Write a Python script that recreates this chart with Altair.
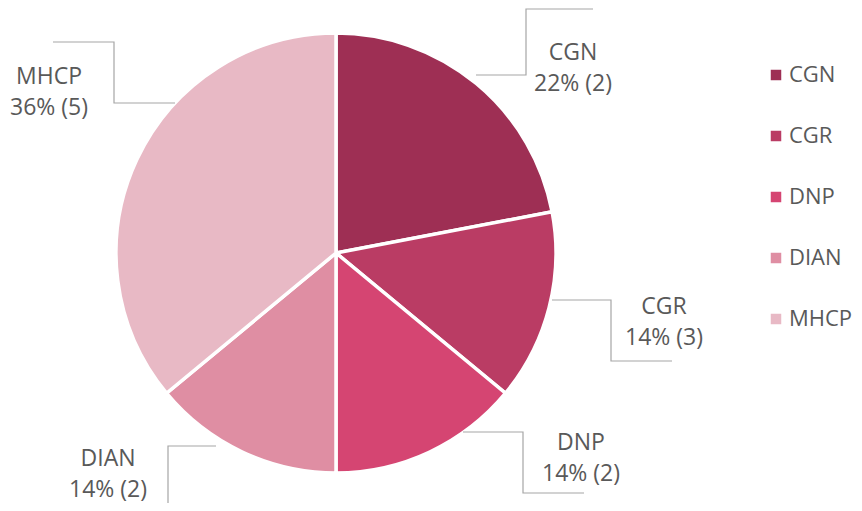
import altair as alt
import pandas as pd

# ---- data ----
categories = ["CGN", "CGR", "DNP", "DIAN", "MHCP"]
shares = [22, 14, 14, 14, 36]
counts = [2, 3, 2, 2, 5]
colors = ["#9E2F54", "#BA3C64", "#D54572", "#DF8EA3", "#E8B9C5"]

# label first-line centres (pixel space of the plot area)
label_x = [565, 656, 573, 100, 41]
label_y = [45, 299, 435, 451, 69]

# elbow leader lines (pixel space of the plot area)
leader_x = [[468, 518, 518, 585], [544, 603, 603, 664], [455, 515, 515, 576],
            [208, 160, 160], [167, 106, 106, 45]]
leader_y = [[67, 67, 1, 1], [292, 292, 353, 353], [424, 424, 485, 485],
            [438, 438, 503], [95, 95, 34, 34]]

W, H = 846, 495
CX, CY, R = 328, 245, 220

pie_df = pd.DataFrame({"cat": categories, "share": shares,
                       "idx": list(range(len(categories)))})
lab_df = pd.DataFrame({
    "cat": categories,
    "txt": [f"{c}\n{s}% ({n})" for c, s, n in zip(categories, shares, counts)],
    "lx": label_x, "ly": label_y,
})
rows = []
for c, xs, ys in zip(categories, leader_x, leader_y):
    for i, (a, b) in enumerate(zip(xs, ys)):
        rows.append({"cat": c, "k": i, "px": a, "py": b})
line_df = pd.DataFrame(rows)

xs = alt.Scale(domain=[0, W], nice=False, zero=False)
ys = alt.Scale(domain=[H, 0], nice=False, zero=False)

FONT = "Open Sans"
FS = 23

pie = alt.Chart(pie_df).mark_arc(
    outerRadius=R, stroke="white", strokeWidth=3.5
).encode(
    theta=alt.Theta("share:Q", stack=True),
    order=alt.Order("idx:Q"),
    color=alt.Color(
        "cat:N",
        scale=alt.Scale(domain=categories, range=colors),
        sort=categories,
        legend=alt.Legend(
            title=None, orient="none", legendX=757, legendY=56,
            symbolType="square", symbolSize=110, symbolStrokeWidth=0,
            labelFontSize=22, labelFont=FONT, labelColor="#595959",
            rowPadding=39, labelOffset=2, padding=0,
        ),
    ),
    x=alt.value(CX), y=alt.value(CY),
)

leaders = alt.Chart(line_df).mark_line(color="#A6A6A6", strokeWidth=1.2, clip=True).encode(
    x=alt.X("px:Q", scale=xs, axis=None),
    y=alt.Y("py:Q", scale=ys, axis=None),
    detail="cat:N",
    order="k:Q",
)

labels = alt.Chart(lab_df).mark_text(
    font=FONT, fontSize=FS, color="#595959", align="center",
    baseline="middle", lineBreak="\n", lineHeight=31,
).encode(
    x=alt.X("lx:Q", scale=xs, axis=None),
    y=alt.Y("ly:Q", scale=ys, axis=None),
    text="txt:N",
)

chart = alt.layer(pie, leaders, labels).properties(
    width=W, height=H, padding=0, autosize=alt.AutoSizeParams(type="none")
).configure_view(stroke=None)

chart.save("out.html", embed_options={"renderer": "svg", "actions": False})
